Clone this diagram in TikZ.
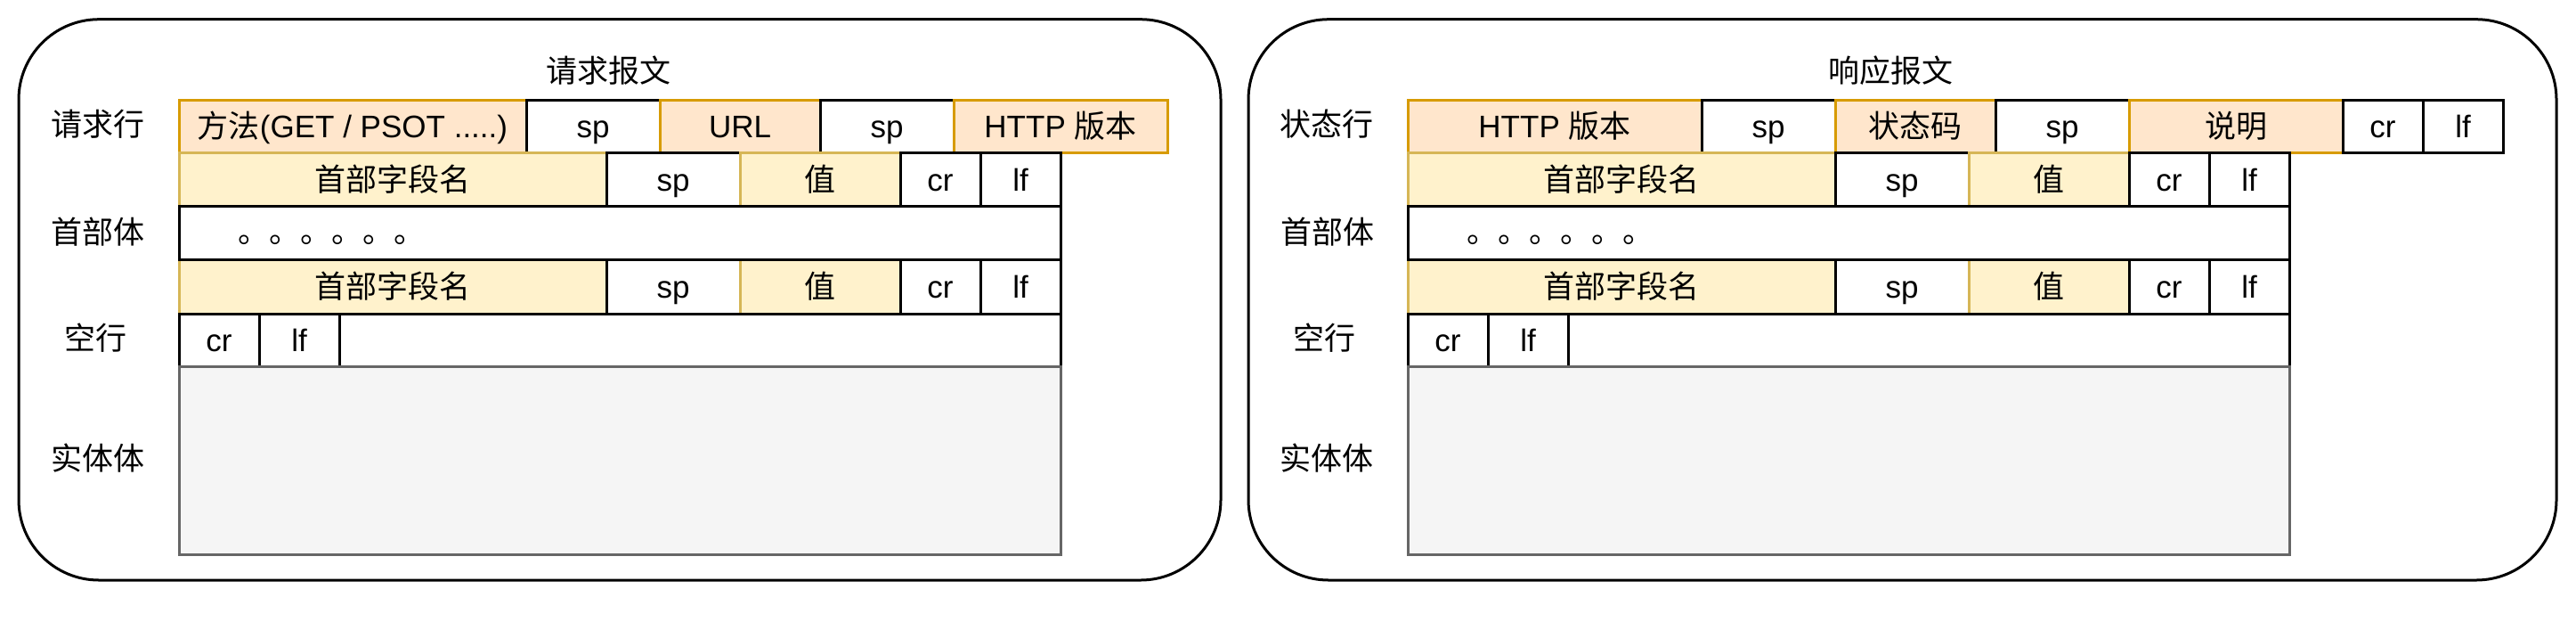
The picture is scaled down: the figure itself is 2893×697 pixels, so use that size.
\documentclass[tikz,border=0pt]{standalone}
\usepackage{fontspec}
\setmainfont{Liberation Sans}
\newfontfamily\cjk{Noto Sans CJK SC}
\definecolor{oFill}{HTML}{FFE6CC}
\definecolor{oLine}{HTML}{D79B00}
\definecolor{yFill}{HTML}{FFF2CC}
\definecolor{yLine}{HTML}{D6B656}
\definecolor{gFill}{HTML}{F5F5F5}
\definecolor{gLine}{HTML}{666666}
\begin{document}
\begin{tikzpicture}[x=1pt,y=-1pt,
  txt/.style={font=\fontsize{35}{42}\selectfont, inner sep=0pt},
  cellbase/.style={txt, rectangle, line width=3pt, text height=26pt, text depth=0pt, anchor=center},
  cellW/.style={cellbase, draw=black, fill=white},
  cellO/.style={cellbase, draw=oLine, fill=oFill},
  cellY/.style={cellbase, draw=yLine, fill=yFill},
  cellG/.style={cellbase, draw=gLine, fill=gFill},
  lbl/.style={txt, anchor=base},
  outer/.style={draw=black, line width=3pt, rounded corners=90pt}
]
\useasboundingbox (0,0) rectangle (2893,697);
\path[fill=white] (0,0) rectangle (2893,697);

% ===== left panel: request =====
\draw[outer] (21,21.7) rectangle (1371,651);
\node[lbl] (t1) at (683,92) {\cjk 请求报文};
\node[lbl] (l1a) at (110,152) {\cjk 请求行};
\node[lbl] (l1b) at (110,273) {\cjk 首部体};
\node[lbl] (l1c) at (107,392) {\cjk 空行};
\node[lbl] (l1d) at (110,527) {\cjk 实体体};

% row 1
\node[cellO, minimum width=390pt, minimum height=59pt] (qm) at (396,141.5) {{\cjk 方法}(GET / PSOT .....)};
\node[cellW, minimum width=150pt, minimum height=59pt] (qsp1) at (666,141.5) {sp};
\node[cellO, minimum width=180pt, minimum height=59pt] (qurl) at (831,141.5) {URL};
\node[cellW, minimum width=150pt, minimum height=59pt] (qsp2) at (996,141.5) {sp};
\node[cellO, minimum width=240pt, minimum height=59pt] (qver) at (1191,141.5) {HTTP {\cjk 版本}};
% row 2
\node[cellY, minimum width=480pt, minimum height=60pt] (qn1) at (441,201) {\cjk 首部字段名};
\node[cellW, minimum width=150pt, minimum height=60pt] (qs1) at (756,201) {sp};
\node[cellY, minimum width=180pt, minimum height=60pt] (qv1) at (921,201) {\cjk 值};
\node[cellW, minimum width=90pt, minimum height=60pt] (qc1) at (1056,201) {cr};
\node[cellW, minimum width=90pt, minimum height=60pt] (qf1) at (1146,201) {lf};
% row 4
\node[cellY, minimum width=480pt, minimum height=61pt] (qn2) at (441,321.5) {\cjk 首部字段名};
\node[cellW, minimum width=150pt, minimum height=61pt] (qs2) at (756,321.5) {sp};
\node[cellY, minimum width=180pt, minimum height=61pt] (qv2) at (921,321.5) {\cjk 值};
\node[cellW, minimum width=90pt, minimum height=61pt] (qc2) at (1056,321.5) {cr};
\node[cellW, minimum width=90pt, minimum height=61pt] (qf2) at (1146,321.5) {lf};
% row 3
\node[cellW, minimum width=990pt, minimum height=60pt] (qdots) at (696,261) {};
\node[txt, anchor=base west] (qdt) at (267,272) {\cjk 。。。。。。};
% row 5
\node[cellW, minimum width=90pt, minimum height=59pt] (qc3) at (246,381.5) {cr};
\node[cellW, minimum width=90pt, minimum height=59pt] (qf3) at (336,381.5) {lf};
\node[cellW, minimum width=810pt, minimum height=59pt] (qe) at (786,381.5) {};
% entity
\node[cellG, minimum width=990pt, minimum height=211pt] (qbody) at (696,516.5) {};

% ===== right panel: response =====
\draw[outer] (1402,21.7) rectangle (2871,651);
\node[lbl] (t2) at (2123,92) {\cjk 响应报文};
\node[lbl] (l2a) at (1490,152) {\cjk 状态行};
\node[lbl] (l2b) at (1491,273) {\cjk 首部体};
\node[lbl] (l2c) at (1487,392) {\cjk 空行};
\node[lbl] (l2d) at (1490,527) {\cjk 实体体};

% row 1
\node[cellO, minimum width=330pt, minimum height=59pt] (rver) at (1746,141.5) {HTTP {\cjk 版本}};
\node[cellW, minimum width=150pt, minimum height=59pt] (rsp1) at (1986,141.5) {sp};
\node[cellO, minimum width=180pt, minimum height=59pt] (rcode) at (2151,141.5) {\cjk 状态码};
\node[cellW, minimum width=150pt, minimum height=59pt] (rsp2) at (2316,141.5) {sp};
\node[cellO, minimum width=240pt, minimum height=59pt] (rdesc) at (2511,141.5) {\cjk 说明};
\node[cellW, minimum width=90pt, minimum height=59pt] (rcr) at (2676,141.5) {cr};
\node[cellW, minimum width=90pt, minimum height=59pt] (rlf) at (2766,141.5) {lf};
% row 2
\node[cellY, minimum width=480pt, minimum height=60pt] (rn1) at (1821,201) {\cjk 首部字段名};
\node[cellW, minimum width=150pt, minimum height=60pt] (rs1) at (2136,201) {sp};
\node[cellY, minimum width=180pt, minimum height=60pt] (rv1) at (2301,201) {\cjk 值};
\node[cellW, minimum width=90pt, minimum height=60pt] (rc1) at (2436,201) {cr};
\node[cellW, minimum width=90pt, minimum height=60pt] (rf1) at (2526,201) {lf};
% row 4
\node[cellY, minimum width=480pt, minimum height=61pt] (rn2) at (1821,321.5) {\cjk 首部字段名};
\node[cellW, minimum width=150pt, minimum height=61pt] (rs2) at (2136,321.5) {sp};
\node[cellY, minimum width=180pt, minimum height=61pt] (rv2) at (2301,321.5) {\cjk 值};
\node[cellW, minimum width=90pt, minimum height=61pt] (rc2) at (2436,321.5) {cr};
\node[cellW, minimum width=90pt, minimum height=61pt] (rf2) at (2526,321.5) {lf};
% row 3
\node[cellW, minimum width=990pt, minimum height=60pt] (rdots) at (2076,261) {};
\node[txt, anchor=base west] (rdt) at (1647,272) {\cjk 。。。。。。};
% row 5
\node[cellW, minimum width=90pt, minimum height=59pt] (rc3) at (1626,381.5) {cr};
\node[cellW, minimum width=90pt, minimum height=59pt] (rf3) at (1716,381.5) {lf};
\node[cellW, minimum width=810pt, minimum height=59pt] (re) at (2166,381.5) {};
% entity
\node[cellG, minimum width=990pt, minimum height=211pt] (rbody) at (2076,516.5) {};
\end{tikzpicture}
\end{document}
